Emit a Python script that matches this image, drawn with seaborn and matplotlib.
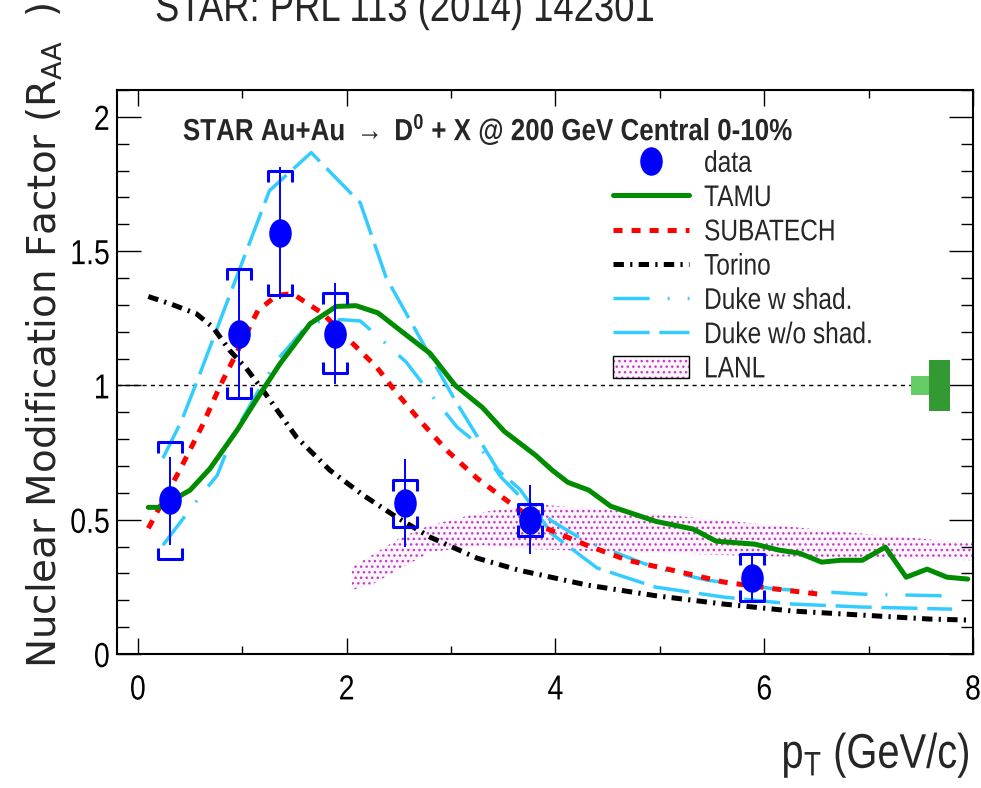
import matplotlib
matplotlib.use("Agg")
import matplotlib.pyplot as plt
import seaborn as sns
import numpy as np
import pandas as pd
from matplotlib.path import Path
from matplotlib.transforms import Affine2D
from matplotlib.lines import Line2D
from matplotlib.patches import Patch
from matplotlib.patheffects import AbstractPathEffect
from matplotlib.ticker import MultipleLocator, FuncFormatter

# ---------------- data ----------------
# STAR D0 RAA, Au+Au 200 GeV, 0-10%
pt = [0.31, 0.97, 1.36, 1.89, 2.56, 3.76, 5.88]
raa = [0.572, 1.193, 1.569, 1.193, 0.561, 0.498, 0.283]
stat_lo = [0.405, 0.955, 1.323, 1.007, 0.398, 0.372, 0.200]
stat_hi = [0.732, 1.435, 1.814, 1.383, 0.725, 0.628, 0.370]
sys_lo = [0.353, 0.955, 1.338, 1.045, 0.472, 0.439, 0.197]
sys_hi = [0.788, 1.435, 1.800, 1.346, 0.647, 0.558, 0.372]

# model curves
tamu_pt = [0.10, 0.21, 0.50, 0.69, 0.95, 1.14, 1.36, 1.65, 1.90, 2.09, 2.30, 2.54,
           2.80, 3.04, 3.30, 3.51, 3.81, 3.97, 4.12, 4.32, 4.53, 4.96, 5.32, 5.54,
           5.91, 6.14, 6.34, 6.55, 6.73, 6.94, 7.16, 7.36, 7.56, 7.75, 7.95]
tamu_raa = [0.546, 0.546, 0.61, 0.69, 0.833, 0.95, 1.08, 1.23, 1.294, 1.297, 1.27, 1.197,
            1.119, 1.0, 0.918, 0.829, 0.74, 0.684, 0.639, 0.61, 0.55, 0.494, 0.465, 0.42,
            0.409, 0.387, 0.375, 0.342, 0.349, 0.349, 0.398, 0.286, 0.316, 0.286, 0.279]

subatech_pt = [0.10, 0.40, 0.61, 0.79, 1.15, 1.33, 1.48, 1.77, 2.03, 2.29, 2.46, 2.70,
               2.96, 3.25, 3.58, 3.91, 4.30, 4.69, 5.12, 5.61, 6.11, 6.52]
subatech_raa = [0.468, 0.684, 0.845, 1.0, 1.279, 1.335, 1.342, 1.268, 1.167, 1.067, 0.981, 0.87,
                0.758, 0.654, 0.558, 0.468, 0.405, 0.349, 0.312, 0.268, 0.242, 0.223]

torino_pt = [0.10, 0.31, 0.56, 0.72, 0.88, 1.04, 1.20, 1.52, 1.84, 2.16, 2.48, 2.80, 3.25,
             3.65, 4.30, 4.96, 5.61, 6.27, 6.93, 7.59, 8.0]
torino_raa = [1.331, 1.304, 1.267, 1.216, 1.13, 1.063, 0.981, 0.807, 0.684, 0.591, 0.509, 0.435,
              0.357, 0.312, 0.257, 0.217, 0.186, 0.16, 0.145, 0.13, 0.126]

duke_w_pt = [0.24, 0.48, 0.62, 0.76, 0.91, 1.14, 1.33, 1.65, 1.95, 2.13, 2.29, 2.57,
             2.83, 3.06, 3.25, 3.48, 3.65, 3.97, 4.27, 4.96, 5.45, 6.11, 6.93, 7.80]
duke_w_raa = [0.405, 0.528, 0.599, 0.665, 0.814, 0.97, 1.093, 1.235, 1.245, 1.24, 1.186, 1.087,
              0.955, 0.844, 0.784, 0.658, 0.591, 0.494, 0.424, 0.32, 0.275, 0.242, 0.223, 0.216]

duke_wo_pt = [0.24, 0.42, 0.57, 1.04, 1.26, 1.66, 2.13, 2.38, 2.77, 3.04, 3.45, 3.66,
              3.97, 4.40, 4.96, 5.61, 6.27, 6.93, 7.80]
duke_wo_raa = [0.729, 0.87, 1.019, 1.50, 1.725, 1.867, 1.68, 1.40, 1.13, 0.944, 0.684, 0.613,
               0.446, 0.32, 0.249, 0.212, 0.186, 0.175, 0.167]

lanl_pt = [2.05, 2.25, 2.5, 2.8, 3.3, 3.8, 5.0, 6.0, 7.0, 8.0]
lanl_lo = [0.238, 0.26, 0.315, 0.379, 0.405, 0.39, 0.375, 0.364, 0.357, 0.349]
lanl_hi = [0.323, 0.37, 0.43, 0.48, 0.528, 0.558, 0.52, 0.483, 0.446, 0.413]

# normalisation uncertainties at unity
norm_x0 = 7.41
norm_pp_width, norm_pp_half = 0.17, 0.035
norm_ncoll_width, norm_ncoll_half = 0.20, 0.095

legend_labels = ["data", "TAMU", "SUBATECH", "Torino", "Duke w shad.", "Duke w/o shad.", "LANL"]


# ---------------- helpers ----------------
class Squeeze(AbstractPathEffect):
    """Draw text glyphs horizontally condensed about a chosen anchor."""

    def __init__(self, factor=0.82, anchor="left"):
        super().__init__()
        self.factor = factor
        self.anchor = anchor

    def draw_path(self, renderer, gc, tpath, affine, rgbFace=None):
        ext = tpath.get_extents()
        if self.anchor == "right":
            x0 = ext.x1
        elif self.anchor == "center":
            x0 = 0.5 * (ext.x0 + ext.x1)
        else:
            x0 = 0.0
        squeeze = Affine2D().translate(-x0, 0).scale(self.factor, 1.0).translate(x0, 0)
        renderer.draw_path(gc, tpath, squeeze + affine, rgbFace)


# ---------------- style ----------------
sns.set_theme(style="ticks")
plt.rcParams["font.family"] = ["Liberation Sans", "DejaVu Sans"]
plt.rcParams["mathtext.fontset"] = "custom"
plt.rcParams["mathtext.rm"] = "Liberation Sans"
plt.rcParams["mathtext.bf"] = "Liberation Sans:bold"
plt.rcParams["mathtext.it"] = "Liberation Sans:italic"
plt.rcParams["lines.scale_dashes"] = False
plt.rcParams["hatch.linewidth"] = 1.0
plt.rcParams["axes.linewidth"] = 1.5

GREEN = "#008c00"
RED = "#ff0000"
CYAN = "#33ccff"
BLUE = "#0000ff"
MAGENTA = "#c040c0"
BAND_FACE = (0.8, 0.3, 0.8, 0.06)

ls_sub = (0, (6.5, 6.5))
ls_tor = (0, (7.5, 4.5, 1.6, 4.5))
ls_dw = (0, (26.0, 13.0, 1.4, 13.0))
ls_dwo = (0, (26.0, 7.0))

ellipse = Path.unit_circle().transformed(Affine2D().scale(0.78, 1.0))
top_br = Path([(-1, -0.9), (-1, 0), (1, 0), (1, -0.9)],
              [Path.MOVETO, Path.LINETO, Path.LINETO, Path.LINETO])
bot_br = Path([(-1, 0.9), (-1, 0), (1, 0), (1, 0.9)],
              [Path.MOVETO, Path.LINETO, Path.LINETO, Path.LINETO])

fig = plt.figure(figsize=(9.81, 7.88), dpi=100)
ax = fig.add_axes([117 / 981, 1 - 654 / 788, 856 / 981, 564 / 788])

# LANL band
ax.fill_between(lanl_pt, lanl_lo, lanl_hi, facecolor=BAND_FACE,
                edgecolor=MAGENTA, hatch="...", linewidth=0, zorder=1)

# unity reference and normalisation boxes
ax.hlines(1.0, -0.2, norm_x0, colors="black", linewidth=1.0,
          linestyles=(0, (3.0, 3.0)), zorder=1)
ax.bar([norm_x0], [2 * norm_pp_half], bottom=1 - norm_pp_half, width=norm_pp_width,
       align="edge", color="#66cc66", linewidth=0, zorder=2)
ax.bar([norm_x0 + norm_pp_width], [2 * norm_ncoll_half], bottom=1 - norm_ncoll_half,
       width=norm_ncoll_width, align="edge", color="#339933", linewidth=0, zorder=2)

# model curves
curves = [
    (duke_wo_pt, duke_wo_raa, CYAN, 2.5, ls_dwo),
    (duke_w_pt, duke_w_raa, CYAN, 2.5, ls_dw),
    (torino_pt, torino_raa, "black", 3.6, ls_tor),
    (subatech_pt, subatech_raa, RED, 3.6, ls_sub),
    (tamu_pt, tamu_raa, GREEN, 3.6, "-"),
]
for xs, ys, c, lw, ls in curves:
    sns.lineplot(x=xs, y=ys, ax=ax, color=c, linewidth=lw, linestyle=ls, zorder=3)

# data: systematic brackets, statistical bars, points
ax.plot(pt, sys_hi, ls="none", marker=top_br, ms=17.3, mfc="none", mec=BLUE, mew=2.2, zorder=4)
ax.plot(pt, sys_lo, ls="none", marker=bot_br, ms=17.3, mfc="none", mec=BLUE, mew=2.2, zorder=4)
yerr = [np.array(raa) - np.array(stat_lo), np.array(stat_hi) - np.array(raa)]
ax.errorbar(pt, raa, yerr=yerr, fmt="none", ecolor=BLUE, elinewidth=1.4, capsize=0, zorder=4)
ax.plot(pt, raa, ls="none", marker=ellipse, ms=19.5, color=BLUE, mec=BLUE, zorder=5)

# axes
ax.set_xlim(-0.2, 8)
ax.set_ylim(0, 2.1)
ax.set_xlabel("")
ax.set_ylabel("")
ax.xaxis.set_major_locator(MultipleLocator(2))
ax.xaxis.set_minor_locator(MultipleLocator(1))
ax.yaxis.set_major_locator(MultipleLocator(0.5))
ax.yaxis.set_minor_locator(MultipleLocator(0.1))
ax.yaxis.set_major_formatter(FuncFormatter(lambda v, p: f"{v:g}"))
ax.tick_params(which="both", direction="in", top=True, right=True, width=1.0,
               colors="black", labelsize=25)
ax.tick_params(axis="x", which="major", length=11.5, pad=14)
ax.tick_params(axis="x", which="minor", length=5.8)
ax.tick_params(axis="y", which="major", length=17, pad=5)
ax.tick_params(axis="y", which="minor", length=8.6)
for s in ax.spines.values():
    s.set_color("black")
    s.set_linewidth(1.5)
for lab in ax.get_xticklabels():
    lab.set_path_effects([Squeeze(0.82, "center")])
for lab in ax.get_yticklabels():
    lab.set_path_effects([Squeeze(0.82, "right")])

# texts
ax.text(0.077, 0.911, r"STAR Au+Au $\rightarrow$ D$^{\mathbf{0}}$ + X @ 200 GeV Central 0-10%",
        transform=ax.transAxes, fontsize=22, fontweight="bold", va="baseline", ha="left",
        path_effects=[Squeeze(0.85, "left")])
fig.text(155 / 981, 1 - 21 / 788, "STAR: PRL 113 (2014) 142301", fontsize=32,
         va="baseline", ha="left", path_effects=[Squeeze(0.82, "left")])
fig.text(45 / 981, 1 - 668 / 788, r"Nuclear Modification Factor (R$_{\mathregular{AA}}$  )",
         rotation=90, fontsize=28, family="DejaVu Sans", va="bottom", ha="center")
fig.text(970 / 981, 1 - 768 / 788, r"p$_{\mathregular{T}}$ (GeV/c)", fontsize=35,
         ha="right", va="baseline", path_effects=[Squeeze(0.82, "right")])

# legend
handles = [
    Line2D([], [], ls="none", marker=ellipse, ms=19.5, color=BLUE),
    Line2D([], [], color=GREEN, lw=3.6),
    Line2D([], [], color=RED, lw=3.6, ls=ls_sub),
    Line2D([], [], color="black", lw=3.6, ls=ls_tor),
    Line2D([], [], color=CYAN, lw=2.5, ls=ls_dw),
    Line2D([], [], color=CYAN, lw=2.5, ls=ls_dwo),
    (Patch(facecolor=BAND_FACE, edgecolor=MAGENTA, hatch="...", linewidth=0),
     Patch(facecolor="none", edgecolor="black", linewidth=1.0)),
]
leg = ax.legend(handles, legend_labels, loc="upper left", bbox_to_anchor=(0.5794, 0.894),
                frameon=False, fontsize=21.5, handlelength=2.55, handletextpad=0.5,
                labelspacing=0.21, borderpad=0, borderaxespad=0, handleheight=0.75)
for t in leg.get_texts():
    t.set_path_effects([Squeeze(0.82, "left")])

fig.savefig("out.png", dpi=100)
